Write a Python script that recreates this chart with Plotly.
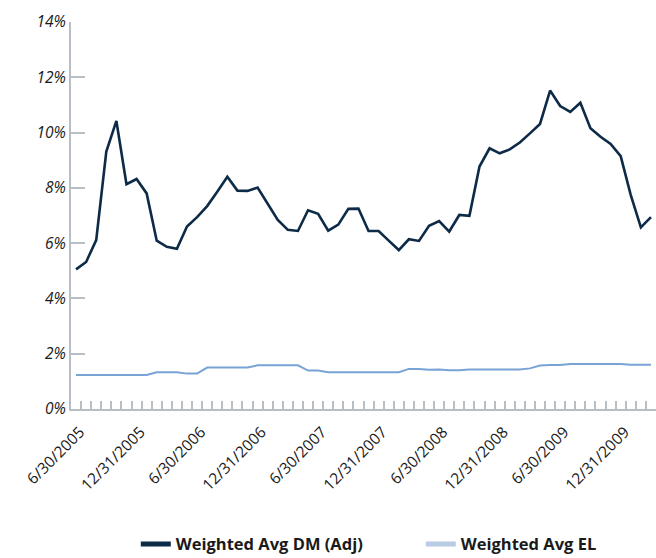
import plotly.graph_objects as go

# Monthly period-end dates, 6/30/2005 .. 3/31/2010
dates = ["6/30/2005","7/31/2005","8/31/2005","9/30/2005","10/31/2005","11/30/2005",
         "12/31/2005","1/31/2006","2/28/2006","3/31/2006","4/30/2006","5/31/2006",
         "6/30/2006","7/31/2006","8/31/2006","9/30/2006","10/31/2006","11/30/2006",
         "12/31/2006","1/31/2007","2/28/2007","3/31/2007","4/30/2007","5/31/2007",
         "6/30/2007","7/31/2007","8/31/2007","9/30/2007","10/31/2007","11/30/2007",
         "12/31/2007","1/31/2008","2/29/2008","3/31/2008","4/30/2008","5/31/2008",
         "6/30/2008","7/31/2008","8/31/2008","9/30/2008","10/31/2008","11/30/2008",
         "12/31/2008","1/31/2009","2/28/2009","3/31/2009","4/30/2009","5/31/2009",
         "6/30/2009","7/31/2009","8/31/2009","9/30/2009","10/31/2009","11/30/2009",
         "12/31/2009","1/31/2010","2/28/2010","3/31/2010"]

dm_adj = [5.05, 5.32, 6.11, 9.31, 10.42, 8.13, 8.32, 7.80, 6.09, 5.87,
          5.80, 6.60, 6.94, 7.34, 7.86, 8.40, 7.90, 7.89, 8.01, 7.41,
          6.84, 6.48, 6.44, 7.19, 7.06, 6.45, 6.67, 7.24, 7.25, 6.44,
          6.44, 6.09, 5.75, 6.14, 6.08, 6.63, 6.80, 6.42, 7.02, 6.99,
          8.77, 9.43, 9.25, 9.39, 9.64, 9.97, 10.31, 11.52, 10.96, 10.75,
          11.08, 10.16, 9.85, 9.59, 9.15, 7.74, 6.57, 6.94]

el = [1.23, 1.23, 1.24, 1.24, 1.24, 1.23, 1.23, 1.23, 1.33, 1.33,
      1.33, 1.28, 1.28, 1.50, 1.50, 1.50, 1.50, 1.50, 1.58, 1.58,
      1.58, 1.58, 1.58, 1.39, 1.39, 1.33, 1.33, 1.33, 1.33, 1.33,
      1.33, 1.33, 1.33, 1.45, 1.45, 1.42, 1.43, 1.40, 1.40, 1.43,
      1.43, 1.43, 1.43, 1.43, 1.43, 1.47, 1.57, 1.59, 1.59, 1.63,
      1.63, 1.63, 1.63, 1.63, 1.63, 1.60, 1.60, 1.60]

label_every = 6
y_ticks = [0, 2, 4, 6, 8, 10, 12, 14]
y_ticktext = [f"{v}%" for v in y_ticks]

x = list(range(len(dates)))
tickvals = x[::label_every]
ticktext = dates[::label_every]

DM_COLOR = "#0d2a47"
EL_LINE = "#79a3d6"
EL_LEGEND = "#b8cce4"
AXIS = "#b7bec6"
FONT = "Open Sans"

fig = go.Figure()
fig.add_trace(go.Scatter(x=x, y=el, mode="lines", line=dict(color=EL_LINE, width=2),
                         showlegend=False, hoverinfo="skip", cliponaxis=False))
fig.add_trace(go.Scatter(x=x, y=dm_adj, mode="lines", line=dict(color=DM_COLOR, width=2.6),
                         showlegend=False, cliponaxis=False))
# legend entries
fig.add_trace(go.Scatter(x=[None], y=[None], mode="lines", name="Weighted Avg DM (Adj)",
                         line=dict(color=DM_COLOR, width=5)))
fig.add_trace(go.Scatter(x=[None], y=[None], mode="lines", name="Weighted Avg EL",
                         line=dict(color=EL_LEGEND, width=5)))

fig.update_layout(
    width=656, height=558,
    margin=dict(l=71, r=0, t=22, b=149, autoexpand=False),
    plot_bgcolor="white", paper_bgcolor="white",
    font=dict(family=FONT, color="#222222"),
    legend=dict(orientation="h", xref="container", yref="container",
                x=0.207, xanchor="left", y=0.056, yanchor="top",
                font=dict(family=FONT, size=16.5, color="#1a1a1a", weight="bold"),
                entrywidth=240, entrywidthmode="pixels",
                tracegroupgap=0),
)
fig.update_xaxes(
    range=[-0.5, len(dates) - 0.5], automargin=False,
    tickmode="array", tickvals=tickvals, ticktext=ticktext,
    ticks="", tickangle=-45, ticklabelstandoff=6, ticklabelshift=4,
    tickfont=dict(family=FONT, size=15.5, color="#1a1a1a"),
    showline=True, linecolor=AXIS, linewidth=2,
    showgrid=False, zeroline=False,
    minor=dict(tickmode="array", tickvals=[i - 0.5 for i in range(1, len(dates))],
               ticks="inside", ticklen=8, tickcolor=AXIS, tickwidth=1.5, showgrid=False),
)
fig.update_yaxes(
    range=[0, 14], automargin=False, tickmode="array", tickvals=y_ticks, ticktext=y_ticktext,
    ticks="inside", ticklen=14, tickcolor=AXIS, tickwidth=2,
    tickfont=dict(family=FONT, size=15.5, color="#1a1a1a", style="italic"),
    showline=True, linecolor=AXIS, linewidth=2,
    showgrid=False, zeroline=False,
)

fig.write_html("out.html", config={"displayModeBar": False},
               post_script="document.body.style.margin='0';document.body.style.overflow='hidden';")
